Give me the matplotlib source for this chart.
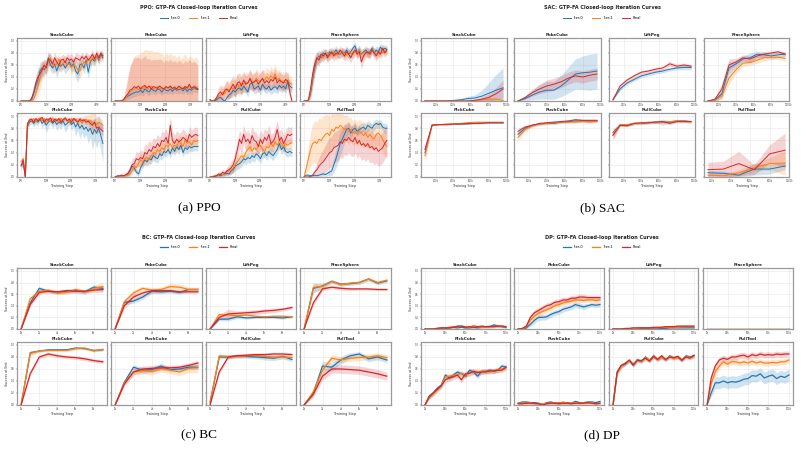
import numpy as np
import matplotlib.pyplot as plt
from matplotlib.ticker import MultipleLocator, FuncFormatter

W, H = 801, 451

TASKS = ["StackCube", "PokeCube", "LiftPeg", "PlaceSphere",
         "PickCube", "PushCube", "PullCube", "PullTool"]
SERIES = ["Iter-0", "Iter-1", "Final"]
COLORS = ["#1f77b4", "#ff7f0e", "#d62728"]

# success at end in %, each task -> (Iter-0, Iter-1, Final)
PPO_MEAN = {
    "StackCube": (
        [0,0,0,0,0,2,12,25,35,50,55,52,58,72,60,55,62,50,60,58,62,55,60,65,58,62,50,45,60,62,55,68,48,65,70,66,75,68,78,72],
        [0,0,0,0,0,0,3,12,25,38,50,58,55,65,72,60,58,62,70,60,62,66,60,62,55,60,58,52,50,60,65,62,70,66,72,68,74,70,72,76],
        [0,0,0,0,0,5,15,30,40,45,52,60,55,70,68,62,72,65,60,68,70,64,72,68,70,65,72,70,68,74,70,75,68,72,78,70,80,72,80,75]),
    "PokeCube": (
        [0,0,0,0,2,5,8,10,12,14,15,15,18,14,20,17,15,20,18,16,20,19,15,20,18,17,20,16,21,18,19,20,17,21,16,20,18,22,20,19],
        [0,0,0,0,1,4,10,15,18,20,22,19,22,20,24,20,22,25,20,22,24,20,22,19,23,21,24,20,22,20,23,19,22,24,20,25,22,20,24,21],
        [0,0,0,0,3,8,12,18,20,24,22,25,20,24,26,22,25,20,24,23,21,25,22,20,24,22,25,21,23,20,25,22,20,24,22,28,21,24,22,20]),
    "LiftPeg": (
        [2,0,0,2,5,6,2,0,5,10,12,18,15,20,22,18,25,20,15,28,30,20,22,25,18,28,22,20,25,18,22,24,20,26,22,25,20,32,25,22],
        [1,0,2,5,8,10,15,12,20,18,22,20,25,28,22,30,28,32,30,35,32,30,38,34,32,36,35,40,36,42,38,45,35,38,32,34,30,35,30,28],
        [2,0,0,5,12,15,10,18,20,15,22,28,20,30,32,25,35,28,30,38,30,32,35,28,33,38,30,34,30,36,33,40,30,35,32,30,36,33,15,0]),
    "PlaceSphere": (
        [0,0,1,12,35,55,70,75,72,80,78,75,82,78,80,85,80,78,82,80,85,78,82,88,92,80,85,78,82,85,80,82,88,80,85,82,90,85,88,86],
        [0,0,1,15,40,60,70,72,75,72,78,80,75,78,82,76,80,78,82,80,76,82,80,78,82,80,85,78,80,82,78,80,85,82,78,80,82,80,84,82],
        [0,0,2,20,45,62,72,68,78,75,80,72,78,82,75,80,78,85,80,75,82,78,72,80,85,78,82,65,75,80,82,78,85,80,75,82,78,88,80,85]),
    "PickCube": (
        [20,22,0,82,90,92,88,92,90,95,88,92,85,90,93,88,92,86,90,88,92,85,88,92,86,90,82,88,80,85,78,82,75,80,70,78,72,80,68,55],
        [25,30,2,85,95,92,96,90,95,97,92,96,90,95,92,97,93,95,90,96,92,95,93,90,96,92,95,90,93,88,92,95,90,93,88,90,86,90,88,85],
        [18,28,0,88,93,95,90,96,92,95,98,90,95,93,97,90,95,92,96,90,94,97,92,95,90,96,93,90,95,92,94,90,92,88,85,90,80,82,78,75]),
    "PushCube": (
        [0,1,1,2,2,3,5,10,18,15,8,5,15,22,28,25,30,28,35,32,30,38,35,42,40,45,38,48,42,50,45,52,40,48,45,50,48,50,50,50],
        [0,0,1,2,2,2,3,5,10,18,15,22,28,25,30,32,28,35,40,38,45,42,48,45,52,50,55,48,52,50,58,55,50,60,55,58,52,60,58,60],
        [0,2,2,3,2,4,6,12,20,22,30,28,32,30,40,38,45,42,50,48,55,50,60,58,65,55,85,60,55,62,58,60,65,62,58,70,65,68,70,68]),
    "PullCube": (
        [0,0,1,2,3,2,4,5,6,5,10,12,18,20,22,25,30,28,32,30,35,32,38,35,30,38,40,35,42,38,35,40,45,55,45,50,42,40,42,40],
        [0,1,2,3,3,5,4,6,8,10,12,15,20,25,30,35,32,40,45,50,42,48,45,50,52,45,42,50,48,55,50,58,52,60,55,50,55,52,55,56],
        [0,0,1,2,5,4,8,6,10,12,15,20,30,45,62,55,70,58,62,55,68,60,58,50,62,55,65,60,70,55,58,65,78,60,65,55,62,70,68,70]),
    "PullTool": (
        [1,3,3,2,2,3,2,3,4,5,4,6,8,10,20,30,42,55,62,70,78,80,72,78,80,75,78,80,82,78,85,82,80,85,88,86,88,82,80,80],
        [0,15,30,45,55,58,55,62,60,65,70,72,68,78,75,82,80,85,82,78,80,75,78,72,75,70,75,72,68,72,65,70,65,62,70,72,68,62,55,50],
        [0,0,0,1,3,8,12,18,22,25,30,35,40,42,48,50,52,58,55,62,60,65,60,58,65,55,60,52,55,50,55,48,50,45,48,42,45,48,55,60]),
}
PPO_STD = {
    "StackCube": (
        [0,0,0,0,0,2,8,12,15,15,12,12,10,12,10,10,10,12,10,10,8,10,10,8,10,10,12,15,10,8,10,8,12,10,8,8,6,8,6,8],
        [0,0,0,0,0,0,3,10,15,18,15,12,10,12,10,10,12,10,10,8,10,10,8,10,12,10,10,12,15,10,10,8,10,8,8,10,6,8,6,6],
        [0,0,0,0,0,4,10,12,15,12,12,10,12,10,10,8,10,8,10,8,8,10,8,8,10,8,8,10,8,8,6,8,8,6,8,6,6,8,6,6]),
    "PokeCube": (
        [0,0,0,0,2,4,5,6,6,7,7,6,7,6,7,6,6,7,6,6,7,6,6,7,6,6,7,6,7,6,6,7,6,7,6,6,7,6,6,6],
        [0,0,0,0,2,10,25,40,50,55,55,58,60,62,62,65,62,60,62,60,58,60,58,55,58,55,58,55,55,52,55,50,52,55,50,50,52,50,50,48],
        [0,0,0,0,3,15,30,40,45,48,50,48,50,48,50,48,46,48,45,46,48,45,46,44,45,44,45,44,45,44,43,44,42,44,42,42,43,42,42,40]),
    "LiftPeg": (
        [2,0,0,2,4,5,4,3,5,6,7,8,8,8,9,8,9,8,8,9,10,8,9,9,8,9,8,8,9,8,8,9,8,9,8,9,8,10,9,8],
        [1,0,2,5,8,10,12,12,14,14,15,14,15,16,15,16,15,16,15,16,15,15,16,15,15,16,15,16,15,16,15,16,15,15,14,15,14,14,13,12],
        [2,0,0,5,10,12,10,12,14,12,14,15,14,15,15,14,15,14,14,15,14,14,15,14,14,15,14,14,14,15,14,15,14,14,13,13,14,13,10,3]),
    "PlaceSphere": (
        [0,0,1,10,15,15,12,10,8,8,8,8,7,8,7,7,8,7,7,8,7,8,7,7,6,8,7,8,7,7,8,7,6,7,7,8,6,7,6,6],
        [0,0,1,10,15,14,10,9,8,8,8,7,8,8,7,8,7,8,7,7,8,7,8,7,7,8,7,8,7,7,8,7,7,7,8,7,7,7,6,6],
        [0,0,2,12,15,14,10,10,8,8,8,9,8,8,9,8,8,7,8,9,8,8,9,8,7,8,8,12,10,8,8,8,7,8,9,8,8,7,8,7]),
    "PickCube": (
        [5,5,2,8,5,5,6,5,6,4,8,6,12,8,5,8,6,10,8,10,6,12,8,6,10,8,15,10,18,12,15,12,20,15,25,18,25,20,25,30],
        [5,5,2,6,3,4,3,4,3,2,4,3,5,3,4,2,3,4,5,3,4,3,5,6,4,5,4,8,6,10,8,6,12,10,18,20,12,10,8,8],
        [5,6,2,5,4,3,5,3,4,3,2,5,3,4,2,5,3,4,3,5,4,3,4,3,5,3,4,5,3,4,3,5,4,6,8,6,10,8,8,8]),
    "PushCube": (
        [0,1,1,2,2,2,3,5,6,6,5,4,6,7,8,7,8,7,8,8,7,8,8,8,7,8,8,8,7,8,8,8,7,8,7,8,7,7,7,7],
        [0,0,1,2,2,2,3,4,6,8,8,9,10,9,10,10,9,10,10,10,10,10,10,10,10,10,10,10,10,10,10,10,10,10,10,9,9,9,9,9],
        [0,2,2,3,2,4,5,8,10,10,12,12,12,12,14,14,15,14,15,14,15,14,15,15,15,14,15,15,14,14,14,13,14,13,12,13,12,12,12,12]),
    "PullCube": (
        [0,0,1,2,2,2,3,3,4,4,5,6,7,8,8,8,8,8,8,8,8,8,8,8,8,8,8,8,8,8,8,8,8,10,8,8,8,7,7,7],
        [0,1,2,2,2,3,3,4,5,6,7,8,9,10,10,10,10,10,10,10,10,10,10,10,10,10,10,10,10,10,10,10,10,9,9,9,9,9,9,9],
        [0,0,1,2,4,4,5,5,6,8,10,12,14,15,15,15,15,15,15,15,15,15,15,15,15,15,15,15,15,15,15,15,15,15,14,14,14,13,13,13]),
    "PullTool": (
        [1,2,2,2,2,2,2,2,3,3,3,4,5,8,12,15,18,20,18,15,12,10,10,8,8,8,8,8,8,8,8,8,8,8,7,7,7,7,8,8],
        [0,10,20,28,32,35,35,35,35,35,32,30,30,28,28,25,25,22,22,22,22,22,20,20,20,20,20,20,20,20,20,20,20,20,20,20,20,20,20,20],
        [0,0,0,1,3,6,10,14,18,20,22,24,25,25,25,25,25,25,25,25,25,25,25,25,25,25,25,25,25,25,25,25,25,25,25,25,25,25,25,25]),
}
PPO_LAST_STEP = {"StackCube": 49e6, "PokeCube": 33e6, "LiftPeg": 49e6, "PlaceSphere": 33e6,
                 "PickCube": 33e6, "PushCube": 33e6, "PullCube": 33e6, "PullTool": 33e6}
PPO_TICK = {"StackCube": 15e6, "LiftPeg": 15e6}

SAC_STEPS = [80e3, 160e3, 240e3, 320e3, 400e3, 480e3, 560e3, 640e3, 720e3, 800e3, 880e3, 960e3]
SAC_TOOL_STEPS = [160e3, 320e3, 480e3, 640e3, 800e3, 960e3]
SAC_MEAN = {
    "StackCube": ([0,0,0,0,1,2,4,5,8,13,18,22], [0,0,0,0,0,0,0,1,2,3,3,1], [0,0,0,0,0,0,0,1,3,6,12,20]),
    "PokeCube": ([0,4,10,15,18,18,25,35,45,47,48,50], None, [0,6,14,20,25,28,32,38,42,40,43,45]),
    "LiftPeg": ([2,20,30,36,42,45,48,50,53,55,56,56], None, [2,25,35,42,48,50,53,55,62,58,60,58]),
    "PlaceSphere": ([0,2,12,55,62,70,72,78,77,75,77,78], [0,1,8,38,52,63,64,68,72,73,73,71],
                    [0,3,20,60,65,72,70,75,78,80,82,78]),
    "PickCube": ([40,85,86,86,87,87,87,88,89,89,89,89], [35,86,86,87,87,88,89,90,90,90,90,90],
                 [45,85,86,86,87,87,88,88,88,89,89,89]),
    "PushCube": ([70,80,85,87,88,88,90,91,92,92,92,92], [65,78,84,87,88,89,90,90,90,91,90,91],
                 [75,82,85,88,89,90,91,92,94,93,93,93]),
    "PullCube": ([73,85,85,88,88,89,90,90,90,92,92,91], [70,86,86,88,88,90,90,90,91,92,92,90],
                 [68,85,84,88,89,89,90,91,88,91,91,91]),
    "PullTool": ([7,6,3,13,13,18], [3,2,7,15,22,23], [12,13,22,12,38,44]),
}
SAC_STD = {
    "StackCube": ([0,0,0,0,1,2,4,5,10,18,26,33], [0,0,0,0,0,0,0,1,2,3,3,2], [0,0,0,0,0,0,0,1,3,6,10,15]),
    "PokeCube": ([0,3,8,12,15,15,18,22,25,28,30,30], None, [0,3,6,8,10,10,10,10,10,10,10,10]),
    "LiftPeg": ([1,3,3,3,3,3,3,3,3,3,4,4], None, [1,3,3,3,3,3,3,3,4,3,3,3]),
    "PlaceSphere": ([0,2,8,10,6,5,8,5,5,5,5,4], [0,1,5,10,6,5,5,5,5,4,4,4], [0,2,10,10,6,5,5,4,4,3,3,3]),
    "PickCube": ([10,1,1,1,1,1,1,1,1,1,1,1], [12,1,1,1,1,1,1,1,1,1,1,1], [10,1,1,1,1,1,1,1,1,1,1,1]),
    "PushCube": ([5,3,2,2,2,2,2,2,2,2,2,2], [6,3,2,2,2,2,2,2,2,2,2,2], [5,3,2,2,2,2,2,2,2,2,2,2]),
    "PullCube": ([6,2,2,2,2,2,2,5,2,2,2,2], [8,2,2,2,2,2,2,2,2,2,2,2], [8,2,2,2,2,2,2,2,2,2,2,2]),
    "PullTool": ([4,4,3,10,8,6], [2,2,5,6,10,20], [12,13,20,8,15,28]),
}

BC_STEPS = [0, 1000, 2000, 3000, 4000, 5000, 6000, 7000, 8000, 9000]
BC_MEAN = {
    "StackCube": ([0,45,70,65,63,65,66,64,72,70], [0,52,65,67,62,63,68,64,70,73], [0,42,63,65,64,66,65,65,67,68]),
    "PokeCube": ([0,46,48,55,65,64,65,63,68,68], [0,47,62,70,67,68,73,72,68,68], [0,40,55,62,66,66,66,64,64,64]),
    "LiftPeg": ([0,17,17,21,19,20,20,20,19,21], [0,25,24,23,24,22,21,22,22,21], [0,20,26,27,28,29,31,32,34,37]),
    "PlaceSphere": ([0,70,74,82,77,78,80,86,79,83], [0,72,73,82,76,79,80,86,80,84], [0,45,69,72,70,69,69,69,68,68]),
    "PickCube": ([0,87,90,92,92,92,95,94,91,92], [0,86,90,91,91,91,94,95,90,93], [0,52,80,85,82,80,79,77,74,72]),
    "PushCube": ([0,38,63,58,59,65,59,60,63,63], [0,37,55,57,56,61,58,55,61,62], [0,35,55,60,61,62,62,63,66,70]),
    "PullCube": ([5,80,80,82,81,80,79,78,81,76], [2,82,81,81,82,83,81,80,80,79], [0,55,80,82,83,84,84,85,85,84]),
    "PullTool": ([0,20,65,63,75,82,85,77,80,75], [0,22,58,78,75,78,79,80,82,79], [0,18,48,60,60,59,58,55,52,48]),
}
BC_STD = {
    "StackCube": ([0,4,3,3,3,4,4,4,4,4], [0,4,4,3,3,3,4,3,4,8], [0,4,3,3,3,3,3,3,4,5]),
    "PokeCube": ([0,4,4,4,4,3,3,3,3,3], [0,4,5,4,4,4,6,5,4,4], [0,5,5,4,4,4,3,3,3,3]),
    "LiftPeg": ([0,3,3,3,2,2,2,2,2,2], [0,3,3,3,3,2,2,2,2,2], [0,4,8,4,4,4,4,4,3,3]),
    "PlaceSphere": ([0,8,5,3,3,3,3,3,3,3], [0,8,5,3,3,3,3,3,3,3], [0,5,3,3,3,3,2,2,2,2]),
    "PickCube": ([0,3,2,2,2,2,2,2,2,2], [0,5,2,2,2,2,2,2,2,2], [0,4,3,3,3,3,3,3,3,3]),
    "PushCube": ([0,3,4,5,5,5,4,4,4,4], [0,3,5,6,6,6,6,6,7,8], [0,4,5,5,5,4,4,4,4,4]),
    "PullCube": ([3,3,3,3,3,3,4,4,4,4], [2,3,3,3,3,3,3,3,3,3], [0,4,3,3,3,3,3,3,3,3]),
    "PullTool": ([0,5,8,7,6,5,4,5,5,5], [0,5,6,6,5,5,5,5,5,5], [0,5,7,7,7,7,7,7,7,7]),
}

DP_STEPS = [0, 5e3, 10e3, 15e3, 20e3, 25e3, 30e3, 35e3, 40e3, 45e3, 50e3,
            55e3, 60e3, 65e3, 70e3, 75e3, 80e3, 85e3, 90e3, 95e3, 100e3]
DP_MEAN = {
    "StackCube": ([0,0,0,1,1,1,2,3,2,3,2,2,3,2,3,4,4,7,5,4,3],
                  [0,0,0,1,2,2,3,4,4,5,4,3,6,4,3,4,5,4,5,5,4],
                  [0,0,0,1,2,2,2,3,5,5,3,4,3,4,5,4,4,4,5,5,4]),
    "PokeCube": ([0,0,2,8,15,20,20,21,25,28,30,34,36,38,42,40,38,40,42,41,42],
                 [0,0,4,15,22,27,30,33,36,40,42,45,47,48,50,50,49,50,50,49,50],
                 [0,1,5,20,28,32,36,40,42,46,47,50,50,53,53,55,55,54,54,54,54]),
    "LiftPeg": ([0,0,0,0,0,0,1,1,1,1,1,1,1,1,2,2,2,2,2,2,2],
                [0,0,0,0,1,1,1,2,2,2,2,2,3,3,3,3,3,4,4,4,4],
                [0,0,0,1,1,2,2,2,2,2,3,3,3,4,4,4,5,5,5,5,5]),
    "PlaceSphere": ([0]*21, [0]*21, [0]*21),
    "PickCube": ([0,15,20,28,33,50,45,50,55,52,48,58,55,48,56,56,58,56,58,65,63],
                 [0,12,18,25,32,47,48,50,50,53,50,53,56,55,56,57,55,57,59,60,62],
                 [0,13,20,26,32,42,45,47,50,42,52,53,56,54,55,55,57,57,58,58,63]),
    "PushCube": ([3,5,5,4,4,3,1,4,5,3,4,3,4,3,6,4,4,5,5,4,6],
                 [3,3,3,4,2,2,2,3,3,4,3,5,3,4,3,3,4,3,4,2,3],
                 [2,2,3,3,3,2,0,2,3,3,2,3,3,2,3,3,3,4,3,2,3]),
    "PullCube": ([0,55,65,68,74,66,76,72,80,74,80,76,80,75,82,78,80,74,82,80,82],
                 [0,53,64,70,73,68,75,73,79,75,81,75,79,76,81,77,79,75,81,79,81],
                 [0,54,66,69,75,67,74,74,78,73,82,76,82,76,80,79,81,75,80,78,83]),
    "PullTool": ([0,20,37,37,40,37,39,38,40,43,44,49,48,52,45,48,50,44,48,46,50],
                 [0,35,55,65,72,68,72,72,70,72,70,73,70,72,70,70,71,70,72,72,75],
                 [0,45,65,75,78,76,80,80,82,83,80,84,82,85,83,84,83,85,84,85,85]),
}
DP_STD = {
    "StackCube": ([0,0,0,1,1,1,1,1,1,1,1,1,2,2,2,2,3,3,3,2,2],
                  [0,0,0,1,1,1,2,2,2,2,2,2,3,2,2,2,2,2,2,2,2],
                  [0,0,0,1,1,1,1,2,2,2,2,2,2,2,2,2,2,2,2,2,2]),
    "PokeCube": ([0,1,2,4,5,5,5,5,5,5,5,5,5,5,5,5,5,4,4,4,4],
                 [0,1,3,4,5,5,5,5,5,5,5,5,5,5,5,4,4,4,4,4,4],
                 [0,2,4,5,5,5,5,5,5,5,5,5,5,5,5,5,5,4,4,4,4]),
    "LiftPeg": ([0,0,0,0,0,0,0,0,0,0,0,1,1,1,1,1,1,1,1,1,1],
                [0,0,0,0,0,0,1,1,1,1,1,1,1,1,1,1,1,1,1,1,1],
                [0,0,0,0,1,1,1,1,1,1,1,1,1,1,2,2,2,2,2,2,2]),
    "PlaceSphere": ([0]*21, [0]*21, [0]*21),
    "PickCube": ([0,3,4,4,4,4,4,4,4,4,4,4,4,4,4,4,4,4,4,4,4],
                 [0,3,4,4,4,4,4,4,4,4,4,4,4,4,4,4,4,4,4,4,5],
                 [0,3,4,4,4,5,5,5,5,5,5,5,5,5,4,4,4,4,4,4,4]),
    "PushCube": ([2,2,2,2,2,2,1,2,2,2,2,2,2,2,2,2,2,2,2,2,2],
                 [2,2,2,2,2,1,1,2,2,2,2,2,2,2,2,2,2,2,2,2,2],
                 [2,2,2,2,2,1,1,2,2,2,2,2,2,2,2,2,2,2,2,2,2]),
    "PullCube": ([0,4,4,3,3,3,3,3,3,3,3,3,3,3,3,3,3,3,3,3,3],
                 [0,4,4,3,3,3,3,3,3,3,3,3,3,3,3,3,3,3,3,3,3],
                 [0,4,4,3,3,4,3,3,4,3,4,3,4,3,3,3,3,3,3,3,3]),
    "PullTool": ([0,6,10,10,10,10,10,10,10,10,10,10,10,10,10,10,10,10,10,10,10],
                 [0,5,6,5,5,5,5,5,5,5,5,5,5,5,5,5,5,5,5,5,5],
                 [0,6,6,5,5,5,5,5,5,5,5,5,5,5,5,5,5,5,5,5,5]),
}


def ppo_steps(task, n):
    return np.linspace(0, PPO_LAST_STEP[task], n)


def add_px_axes(fig, x0, x1, y0, y1):
    return fig.add_axes([x0 / W, 1 - y1 / H, (x1 - x0) / W, (y1 - y0) / H])


def draw_panel(fig, name, cx, cols, rows, title_y, legend_y, caption, caption_y,
               mean, std, steps_of, tick_of, fmt, lw=0.7):
    fig.text(cx / W, 1 - title_y / H, f"{name}: GTP-FA Closed-loop Iteration Curves",
             ha="center", va="center", fontsize=3.6, fontweight="bold", color="#222222")
    handles = []
    for k, task in enumerate(TASKS):
        r, c = divmod(k, 4)
        ax = add_px_axes(fig, cols[c][0], cols[c][1], rows[r][0], rows[r][1])
        for s in range(3):
            m = mean[task][s]
            if m is None:
                continue
            m = np.array(m) / 100
            sd = np.array(std[task][s]) / 100
            x = steps_of(task, len(m))
            ln, = ax.plot(x, m, color=COLORS[s], lw=lw, label=SERIES[s])
            ax.fill_between(x, m - sd, m + sd, color=COLORS[s], alpha=0.2, lw=0)
            if k == 0:
                handles.append(ln)
        ax.set_ylim(0, 1.05)
        ax.yaxis.set_major_locator(MultipleLocator(0.2))
        ax.xaxis.set_major_locator(MultipleLocator(tick_of(task)))
        ax.xaxis.set_major_formatter(FuncFormatter(fmt))
        ax.grid(True, color="#e6e6e6", lw=0.4)
        ax.set_axisbelow(True)
        for sp in ax.spines.values():
            sp.set_color("#9a9a9a")
            sp.set_linewidth(0.9)
        ax.tick_params(labelsize=1.8, length=1, width=0.3, pad=0.8, colors="#444444")
        if c != 0:
            ax.tick_params(labelleft=False)
        else:
            ax.set_ylabel("Success at End", fontsize=2.3, labelpad=1.2, color="#333333")
        if r == 1:
            ax.set_xlabel("Training Step", fontsize=2.4, labelpad=0.6, color="#333333")
        ax.set_title(task, fontsize=3.0, fontweight="bold", pad=1.6, color="#222222")
    fig.legend(handles, [h.get_label() for h in handles], loc="center",
               bbox_to_anchor=(cx / W, 1 - legend_y / H), ncol=3, frameon=False,
               fontsize=2.6, handlelength=2.2, handletextpad=0.8, columnspacing=2.4)
    fig.text(cx / W, 1 - caption_y / H, caption, ha="center", va="center",
             fontsize=9.5, family="Liberation Serif")


fig = plt.figure(figsize=(W / 100, H / 100), dpi=100)

left_cols = [(17, 107), (111, 202), (206, 296), (300, 391)]
right_cols = [(421, 507), (514, 601), (609, 695), (704, 789)]
dp_cols = [(421, 510), (514, 604), (609, 698), (703, 793)]
top_rows = [(38, 101), (113, 177)]
bot_rows = [(268, 329), (342, 405)]

fmt_m = lambda v, p: f"{v / 1e6:.0f}M"
fmt_k = lambda v, p: f"{v / 1e3:.0f}k"

draw_panel(fig, "PPO", 199, left_cols, top_rows, 7, 18, "(a) PPO", 208,
           PPO_MEAN, PPO_STD, ppo_steps,
           lambda t: PPO_TICK.get(t, 10e6), fmt_m)
draw_panel(fig, "SAC", 602, right_cols, top_rows, 7, 18, "(b) SAC", 208,
           SAC_MEAN, SAC_STD,
           lambda t, n: np.array(SAC_TOOL_STEPS if t == "PullTool" else SAC_STEPS),
           lambda t: 200e3, fmt_k)
draw_panel(fig, "BC", 199, left_cols, bot_rows, 237, 247, "(c) BC", 435,
           BC_MEAN, BC_STD, lambda t, n: np.array(BC_STEPS),
           lambda t: 2000, fmt_k, lw=0.9)
draw_panel(fig, "DP", 602, dp_cols, bot_rows, 237, 247, "(d) DP", 435,
           DP_MEAN, DP_STD, lambda t, n: np.array(DP_STEPS),
           lambda t: 25e3, fmt_k, lw=0.9)

fig.savefig("out.png", dpi=100)
